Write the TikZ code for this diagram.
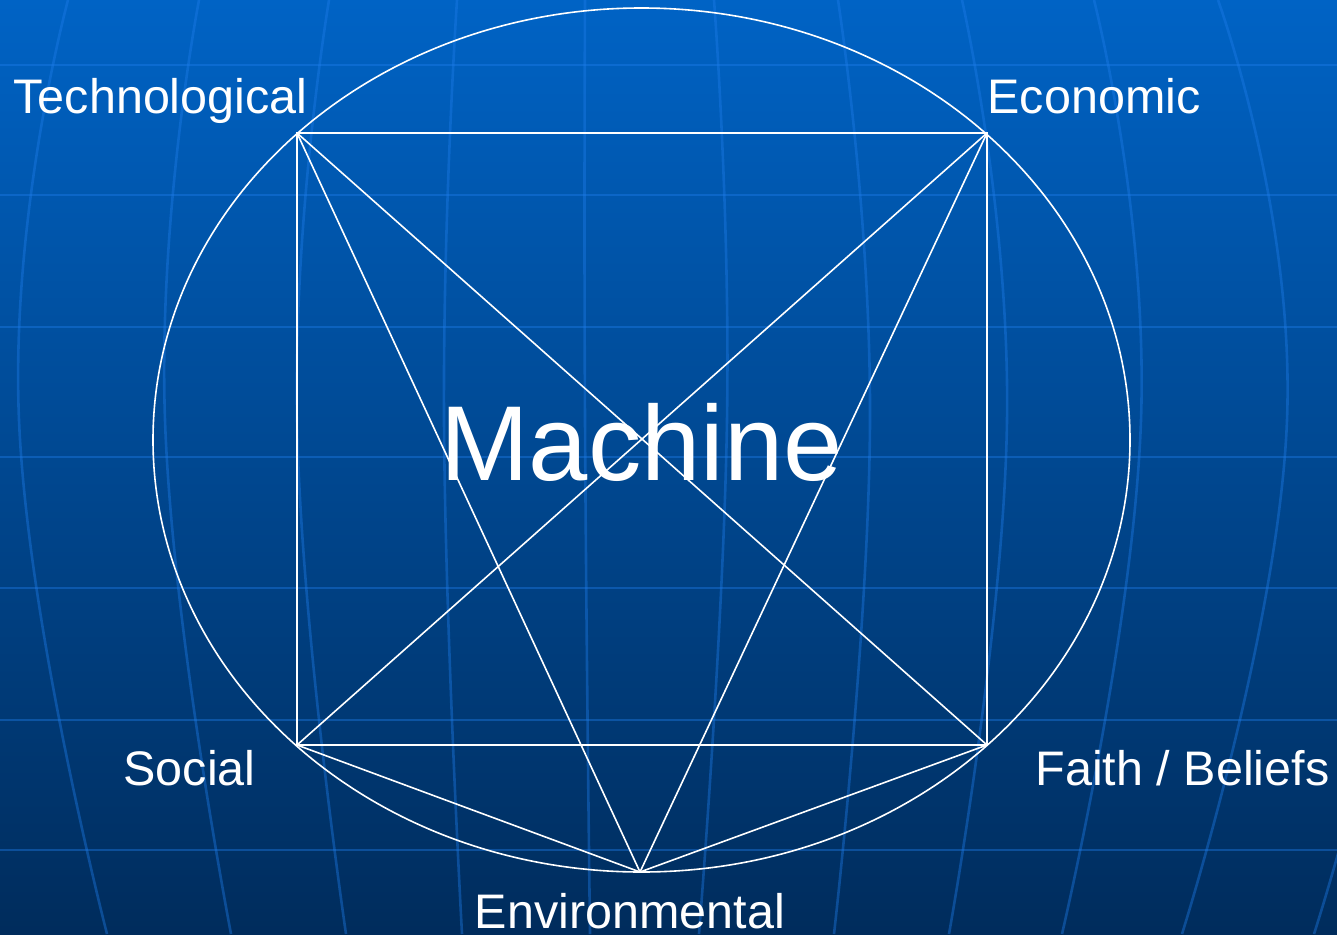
\documentclass[tikz,border=0pt]{standalone}
\usepackage{fontspec}
\setmainfont{Liberation Sans}
\definecolor{bgtop}{RGB}{0,99,197}
\definecolor{bgmid}{RGB}{0,80,158}
\definecolor{bgbot}{RGB}{0,44,92}
\definecolor{gridc}{RGB}{30,125,235}
\tikzset{
  link/.style={draw=white, line width=1.6pt},
  lbl/.style={text=white, font=\fontsize{48.5}{56}\selectfont, inner sep=0pt, anchor=base},
  biglbl/.style={text=white, font=\fontsize{106.5}{120}\selectfont, inner sep=0pt, anchor=base},
  gridline/.style={draw=gridc, line width=2.6pt, draw opacity=0.4}
}
\begin{document}
\begin{tikzpicture}[x=1pt,y=-1pt]
\useasboundingbox (0,0) rectangle (1337,934);
\shade[top color=bgtop, middle color=bgmid, bottom color=bgbot] (0,0) rectangle (1337,934);
\begin{scope}
\clip (0,0) rectangle (1337,934);
\foreach \yy in {65,195,327,457,588,720,850}
  \draw[gridline] (0,\yy) -- (1337,\yy);
\foreach \a/\b/\c in {68/19/107,199/165/231,329/297/346,457/444/462,585/585/590,714/727/699,838/870/834,962/1007/949,1094/1141/1062,1218/1287/1182,1345/1420/1314}
  \draw[gridline] plot[smooth, tension=0.8] coordinates {(\a,0) (\b,420) (\c,934)};
\end{scope}
\draw[link] (641.5,440) ellipse [x radius=488.5, y radius=432];
\coordinate (T) at (297,133);
\coordinate (E) at (987,133);
\coordinate (S) at (297,745);
\coordinate (F) at (987,745);
\coordinate (N) at (640,872);
\draw[link] (T) -- (E) -- (F) -- (S) -- cycle;
\draw[link] (T) -- (F);
\draw[link] (E) -- (S);
\draw[link] (T) -- (N);
\draw[link] (E) -- (N);
\draw[link] (S) -- (N);
\draw[link] (F) -- (N);
\node[lbl] (tech) at (160.5,113) {Technological};
\node[lbl] (econ) at (1094,113) {Economic};
\node[lbl] (soc) at (189.5,785) {Social};
\node[lbl] (faith) at (1182.5,785) {Faith / Beliefs};
\node[lbl] (env) at (630,928) {Environmental};
\node[biglbl] (mach) at (641.5,480) {Machine};
\end{tikzpicture}
\end{document}
